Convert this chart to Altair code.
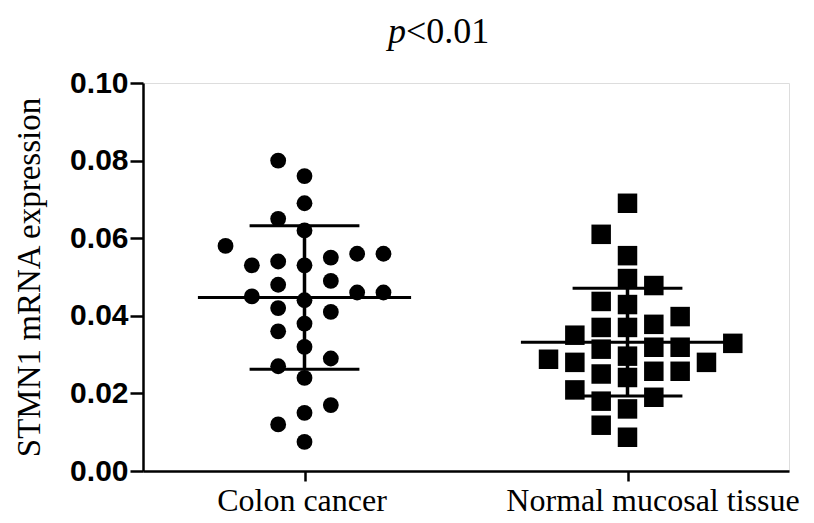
import altair as alt
import pandas as pd

# ---- data ----
groups = ["Colon cancer", "Normal mucosal tissue"]
colon_values = [0.080, 0.076, 0.069, 0.065, 0.062, 0.056, 0.055, 0.056, 0.053, 0.058,
                0.054, 0.053, 0.049, 0.048, 0.046, 0.044, 0.045, 0.046, 0.041, 0.042,
                0.038, 0.036, 0.032, 0.029, 0.027, 0.024, 0.017, 0.015, 0.012, 0.0075]
normal_values = [0.069, 0.061, 0.0555, 0.0496, 0.0478, 0.0429, 0.0437, 0.0398, 0.0378, 0.037,
                 0.037, 0.035, 0.0329, 0.0319, 0.0314, 0.0319, 0.0296, 0.0288, 0.028, 0.028,
                 0.0257, 0.025, 0.0257, 0.0241, 0.0209, 0.018, 0.019, 0.016, 0.0118, 0.0087]
group_means = [0.0447, 0.0332]
group_sds = [0.0185, 0.0139]
y_ticks = [0.0, 0.02, 0.04, 0.06, 0.08, 0.10]
title_parts = ["p", "<0.01"]

# ---- layout constants (style) ----
SLOT = 0.0815      # horizontal spacing of swarm columns, in x units
MIN_GAP = 0.0055   # min vertical distance inside one swarm column
MEAN_HALF = 0.33
CAP_HALF = 0.17


def swarm_slots(values, min_gap):
    order = sorted(range(len(values)), key=lambda i: values[i])
    placed = {}
    slots = [0] * len(values)
    candidates = [0, -1, 1, -2, 2, 3, -3, 4, -4]
    for i in order:
        v = values[i]
        for s in candidates:
            if all(abs(v - u) >= min_gap for u in placed.get(s, [])):
                placed.setdefault(s, []).append(v)
                slots[i] = s
                break
    return slots


rows = []
for gi, vals in enumerate([colon_values, normal_values]):
    for v, s in zip(vals, swarm_slots(vals, MIN_GAP)):
        rows.append({"group": groups[gi], "gi": gi, "value": v, "xpos": gi + s * SLOT})
points_df = pd.DataFrame(rows)

stats_df = pd.DataFrame({"group": groups, "gi": [0, 1], "mean": group_means, "sd": group_sds})

x_scale = alt.Scale(domain=[-0.5, 1.5], nice=False, zero=False)
y_scale = alt.Scale(domain=[0, 0.10], nice=False)

label_expr = f"datum.value < 0.5 ? '{groups[0]}' : '{groups[1]}'"

x_axis = alt.Axis(values=[0, 1], labelExpr=label_expr, title=None, grid=False,
                  labelFont="Liberation Serif", labelFontSize=32, labelColor="black",
                  labelLimit=0,
                  labelOffset={"condition": {"test": "datum.value > 0.5", "value": 25}, "value": -3},
                  tickSize=10, tickWidth=2.5, tickColor="black",
                  domainWidth=2.5, domainColor="black", labelPadding=4,
                  labelFlush=False, labelOverlap=False)
y_axis = alt.Axis(values=y_ticks, format=".2f", grid=False,
                  title="STMN1 mRNA expression", titleFont="Liberation Serif",
                  titleFontSize=33, titleFontWeight="normal", titleColor="black",
                  titlePadding=23,
                  labelFont="Liberation Sans", labelFontWeight="bold", labelFontSize=30,
                  labelColor="black", labelPadding=2,
                  tickSize=13, tickWidth=2.5, tickColor="black",
                  domainWidth=2.5, domainColor="black")

pts = alt.Chart(points_df).mark_point(filled=True, opacity=1, strokeWidth=0).encode(
    x=alt.X("xpos:Q", scale=x_scale, axis=x_axis),
    y=alt.Y("value:Q", scale=y_scale, axis=y_axis),
    shape=alt.Shape("group:N", scale=alt.Scale(domain=groups, range=["circle", "square"]), legend=None),
    size=alt.Size("group:N", scale=alt.Scale(domain=groups, range=[250, 380]), legend=None),
    color=alt.value("black"),
)

base = alt.Chart(stats_df).transform_calculate(
    hi="datum.mean + datum.sd",
    lo="datum.mean - datum.sd",
    m1=f"datum.gi - {MEAN_HALF}",
    m2=f"datum.gi + {MEAN_HALF}",
    c1=f"datum.gi - {CAP_HALF}",
    c2=f"datum.gi + {CAP_HALF}",
)

mean_rule = base.mark_rule(color="black", strokeWidth=3).encode(
    x=alt.X("m1:Q", scale=x_scale), x2="m2:Q", y=alt.Y("mean:Q", scale=y_scale))
cap_hi = base.mark_rule(color="black", strokeWidth=3).encode(
    x=alt.X("c1:Q", scale=x_scale), x2="c2:Q", y=alt.Y("hi:Q", scale=y_scale))
cap_lo = base.mark_rule(color="black", strokeWidth=3).encode(
    x=alt.X("c1:Q", scale=x_scale), x2="c2:Q", y=alt.Y("lo:Q", scale=y_scale))
vert = base.mark_rule(color="black", strokeWidth=3.5).encode(
    x=alt.X("gi:Q", scale=x_scale), y=alt.Y("lo:Q", scale=y_scale), y2="hi:Q")

t_p = alt.Chart(pd.DataFrame({"t": [title_parts[0]]})).mark_text(
    font="Liberation Serif", fontSize=36, fontStyle="italic", align="right",
    baseline="alphabetic", color="black").encode(
    text="t:N", x=alt.value(263), y=alt.value(-40))
t_rest = alt.Chart(pd.DataFrame({"t": [title_parts[1]]})).mark_text(
    font="Liberation Serif", fontSize=36, align="left",
    baseline="alphabetic", color="black").encode(
    text="t:N", x=alt.value(263), y=alt.value(-40))

chart = alt.layer(pts, mean_rule, cap_hi, cap_lo, vert, t_p, t_rest).properties(
    width=646, height=388,
    autosize=alt.AutoSizeParams(type="none"),
    padding={"left": 135, "top": 75, "right": 17, "bottom": 46},
).configure_view(stroke=None).configure(background="white")

chart.save("out.html", embed_options={"renderer": "svg", "actions": False})
